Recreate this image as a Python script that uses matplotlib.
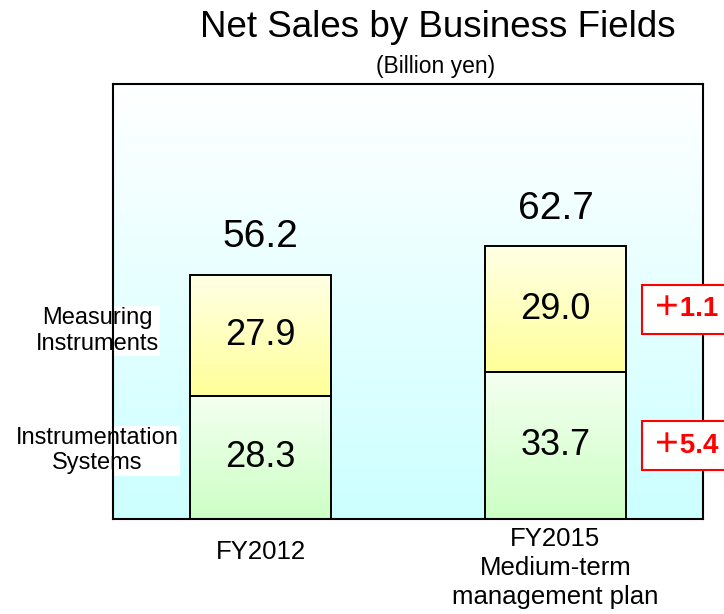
import matplotlib.pyplot as plt
import matplotlib.transforms as mtransforms
from matplotlib.colors import LinearSegmentedColormap
import numpy as np

plt.rcParams['font.family'] = ['Liberation Sans', 'DejaVu Sans']

# data (billion yen)
categories = ['FY2012', 'FY2015\nMedium-term\nmanagement plan']
instrumentation = np.array([28.3, 33.7])
measuring = np.array([27.9, 29.0])
totals = np.array([56.2, 62.7])
# increase FY2012 -> FY2015 plan
inc_instrumentation = 5.4
inc_measuring = 1.1
segment_names = ['Instrumentation\nSystems', 'Measuring\nInstruments']

x = np.arange(len(categories))
width = 0.475


def grad_fill(ax, patch, bottom_color, top_color, zorder=1.5):
    cmap = LinearSegmentedColormap.from_list('g', [bottom_color, top_color])
    g = np.linspace(0, 1, 256).reshape(-1, 1)
    x0, y0 = patch.get_x(), patch.get_y()
    im = ax.imshow(g, extent=(x0, x0 + patch.get_width(), y0, y0 + patch.get_height()),
                   origin='lower', cmap=cmap, aspect='auto', zorder=zorder)
    im.set_clip_path(patch)


fig = plt.figure(figsize=(7.24, 6.14), dpi=100)
ax = fig.add_axes([0.156, 0.155, 0.815, 0.708])

# background gradient
bg = LinearSegmentedColormap.from_list('bg', ['#ccffff', '#ffffff'])
ax.imshow(np.linspace(0, 1, 256).reshape(-1, 1), extent=(-0.5, 1.5, 0, 100),
          origin='lower', cmap=bg, aspect='auto', zorder=0)

bars_low = ax.bar(x, instrumentation, width, facecolor='none', edgecolor='black',
                  linewidth=1.4, zorder=3)
bars_up = ax.bar(x, measuring, width, bottom=instrumentation, facecolor='none',
                 edgecolor='black', linewidth=1.4, zorder=3)
for p in bars_low:
    grad_fill(ax, p, '#ccffc4', '#f4fff0')
for p in bars_up:
    grad_fill(ax, p, '#ffff99', '#ffffe6')

ax.set_xlim(-0.5, 1.5)
ax.set_ylim(0, 100)

# segment values
for i in range(len(x)):
    ax.text(x[i], instrumentation[i] / 2, f'{instrumentation[i]:.1f}', ha='center',
            va='center', fontsize=26, zorder=4)
    ax.text(x[i], instrumentation[i] + measuring[i] / 2, f'{measuring[i]:.1f}',
            ha='center', va='center', fontsize=26, zorder=4)
    ax.annotate(f'{totals[i]:.1f}', (x[i], totals[i]), xytext=(0, 27),
                textcoords='offset points', ha='center', va='center', fontsize=28)

# category labels
label_y = [-0.076, -0.113]
for i, c in enumerate(categories):
    ax.text(x[i], label_y[i], c, transform=ax.get_xaxis_transform(), ha='center',
            va='center', fontsize=18.5, linespacing=1.25)

# segment names on the left
trans = mtransforms.blended_transform_factory(fig.transFigure, ax.transData)
seg_y = [instrumentation[0] / 2 + 1.5, instrumentation[0] + measuring[0] / 2 + 1]
for name, yy in zip(segment_names, seg_y):
    ax.text(0.134, yy, name, transform=trans, ha='center', va='center', fontsize=17,
            linespacing=1.2, zorder=2,
            bbox=dict(boxstyle='square,pad=0.05', fc='white', ec='none'))

# increase boxes
incs = [(instrumentation[1] / 2, inc_instrumentation),
        (instrumentation[1] + measuring[1] / 2, inc_measuring)]
for yy, v in incs:
    ax.annotate(f'\uff0b{v:.1f}', (x[1] + width / 2, yy), xytext=(20, 0),
                textcoords='offset points', ha='left', va='center', fontsize=20,
                fontweight='bold', color='red', zorder=5,
                family=['Liberation Sans', 'Noto Sans CJK JP', 'DejaVu Sans'],
                bbox=dict(boxstyle='square,pad=0.42', fc='white', ec='red', lw=1.5))

for s in ax.spines.values():
    s.set_linewidth(1.5)
ax.set_xticks([])
ax.set_yticks([])

fig.text(0.605, 0.956, 'Net Sales by Business Fields', ha='center', va='center',
         fontsize=26.5)
fig.text(0.602, 0.892, '(Billion yen)', ha='center', va='center', fontsize=16.5)

fig.savefig('out.png', dpi=100)
